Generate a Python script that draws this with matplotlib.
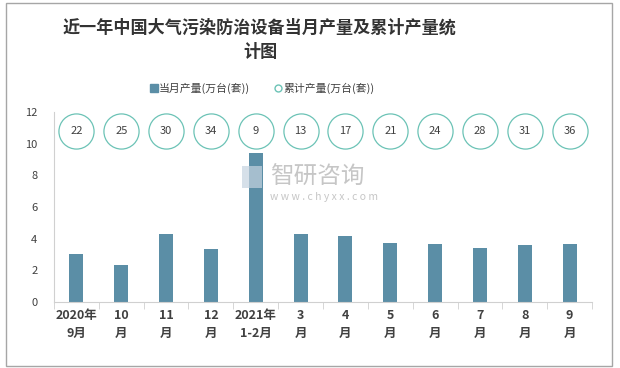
import matplotlib
matplotlib.use("Agg")
import matplotlib.pyplot as plt
from matplotlib.patches import Rectangle
from matplotlib.lines import Line2D
import numpy as np

plt.rcParams['font.family'] = ['Noto Sans CJK SC', 'DejaVu Sans']

categories = ["2020年\n9月", "10\n月", "11\n月", "12\n月", "2021年\n1-2月", "3\n月",
              "4\n月", "5\n月", "6\n月", "7\n月", "8\n月", "9\n月"]
monthly = [3.03, 2.36, 4.30, 3.35, 9.43, 4.30, 4.17, 3.73, 3.66, 3.41, 3.60, 3.66]
cumulative = [22, 25, 30, 34, 9, 13, 17, 21, 24, 28, 31, 36]
yticks = [0, 2, 4, 6, 8, 10, 12]

title = "近一年中国大气污染防治设备当月产量及累计产量统\n计图"
label_monthly = "当月产量(万台(套))"
label_cum = "累计产量(万台(套))"

bar_color = "#5b8ea6"
circle_color = "#6cc3b6"
text_color = "#404040"

fig = plt.figure(figsize=(6.2, 3.68), dpi=100)
fig.patch.set_facecolor("white")
fig.add_artist(Rectangle((6/620, 1-366/368), 606/620, 363/368, transform=fig.transFigure,
                         fill=False, edgecolor="#a6a6a6", linewidth=1.0))

ax = fig.add_axes([54/620, 1-302/368, (592-54)/620, (302-112)/368])
x = np.arange(len(categories))
ax.bar(x, monthly, width=0.31, color=bar_color, zorder=2)

circle_y = [10.8] * len(cumulative)
ax.scatter(x, circle_y, s=640, facecolor="white", edgecolor=circle_color, linewidth=0.9, zorder=3)
for xi, yi, c in zip(x, circle_y, cumulative):
    ax.text(xi, yi, str(c), ha="center", va="center", fontsize=8, color=text_color, zorder=4)

ax.set_xlim(-0.5, len(categories) - 0.5)
ax.set_ylim(0, 12)
ax.set_yticks(yticks)
ax.set_yticklabels([str(v) for v in yticks], fontsize=8, color=text_color)
ax.set_xticks(x)
ax.set_xticklabels(categories, fontsize=9, fontweight="bold", color=text_color, linespacing=1.5)
ax.set_xticks(np.arange(-0.5, len(categories), 1), minor=True)
ax.tick_params(axis="x", which="major", length=0, pad=5)
ax.tick_params(axis="x", which="minor", length=5, color="#d0d0d0", direction="out")
ax.tick_params(axis="y", length=0, pad=12)
for s in ["top", "right"]:
    ax.spines[s].set_visible(False)
ax.spines["bottom"].set_color("#d0d0d0")
ax.spines["left"].set_color("#d0d0d0")

# watermark
fig.text(270/620, 1-177/368, "智研咨询", fontsize=17, color="#b8b8b8", alpha=0.8,
         ha="left", va="center")
fig.text(270/620, 1-197/368, "w w w . c h y x x . c o m", fontsize=7.5, color="#b8b8b8",
         alpha=0.8, ha="left", va="center")
fig.add_artist(Rectangle((242/620, 1-188/368), 20/620, 22/368, transform=fig.transFigure,
                         facecolor="#c5d3e0", edgecolor="none", alpha=0.7))

fig.text(260/620, 1-40/368, title, ha="center", va="center", fontsize=12.3,
         fontweight="bold", color="#333333", linespacing=1.45)

handles = [Line2D([], [], marker="s", linestyle="none", markersize=6, color=bar_color),
           Line2D([], [], marker="o", linestyle="none", markersize=5, markerfacecolor="white",
                  markeredgecolor=circle_color)]
fig.legend(handles, [label_monthly, label_cum], loc="center", bbox_to_anchor=(262/620, 1-88/368),
           ncol=2, frameon=False, fontsize=7.8, handletextpad=0.1, columnspacing=2.2,
           handlelength=0.8, labelcolor=text_color)

fig.savefig("out.png", dpi=100, facecolor="white")
